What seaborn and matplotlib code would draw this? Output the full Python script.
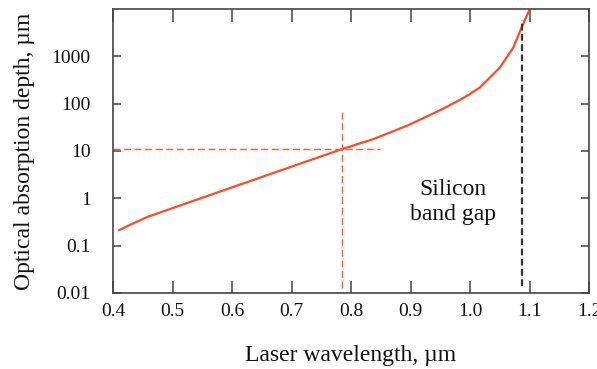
import matplotlib
matplotlib.use("Agg")
import matplotlib.pyplot as plt
import seaborn as sns
import pandas as pd

# Optical absorption depth of silicon versus laser wavelength
wavelength_um = [0.41, 0.43, 0.457, 0.5, 0.6, 0.7, 0.7815, 0.8375, 0.8936,
                 0.9496, 0.9832, 1.0, 1.0168, 1.0504, 1.0728, 1.0867, 1.098, 1.1008]
depth_um = [0.212, 0.28, 0.40, 0.62, 1.7, 4.66, 10.6, 17.8, 33.9,
            72.4, 120, 160, 221, 583, 1535, 4050, 8500, 10000]

# Guide markers
marker_wl = 0.785          # laser wavelength of interest
marker_depth = 10.9        # its absorption depth
band_gap_wl = 1.088        # silicon band gap wavelength

x_ticks = [0.4, 0.5, 0.6, 0.7, 0.8, 0.9, 1.0, 1.1, 1.2]
x_tick_labels = ["0.4", "0.5", "0.6", "0.7", "0.8", "0.9", "1.0", "1.1", "1.2"]
y_ticks = [0.01, 0.1, 1, 10, 100, 1000]
y_tick_labels = ["0.01", "0.1", "1", "10", "100", "1000"]

sns.set_style("white")
plt.rcParams["font.family"] = ["Liberation Serif", "DejaVu Serif"]

df = pd.DataFrame({"wavelength": wavelength_um, "depth": depth_um})

fig = plt.figure(figsize=(5.97, 3.69), dpi=100)
ax = fig.add_axes([0.1893, 0.206, 0.7973, 0.7696])

sns.lineplot(data=df, x="wavelength", y="depth", ax=ax, color="#ff4a26",
             linewidth=1.6, estimator=None, sort=False)
ax.set_yscale("log")
ax.set_xlim(0.4, 1.2)
ax.set_ylim(0.01, 10000)

# Dashed guide lines
guide_red = "#ff5a3a"
ax.plot([0.4, 0.849], [marker_depth, marker_depth], color=guide_red,
        linestyle=(0, (5, 2.6)), linewidth=1.0)
ax.plot([marker_wl, marker_wl], [0.0128, 75], color=guide_red,
        linestyle=(0, (5, 2.6)), linewidth=1.0)
ax.plot([band_gap_wl, band_gap_wl], [0.014, 6000], color="#333333",
        linestyle=(0, (3, 1.6)), linewidth=1.6)

ax.annotate("Silicon\nband gap", xy=(453 - 113, 293 - 202), xycoords="axes pixels",
            ha="center", va="center", fontsize=17, linespacing=1.2,
            color="#111111")

ax.set_xticks(x_ticks)
ax.set_xticklabels(x_tick_labels)
ax.set_yticks(y_ticks)
ax.set_yticklabels(y_tick_labels)
ax.minorticks_off()

ax.tick_params(axis="x", direction="in", length=9, width=1.1, color="#444444",
               top=True, bottom=True, labelsize=14, pad=7, labelcolor="#111111")
ax.tick_params(axis="y", direction="in", length=6, width=1.1, color="#444444",
               left=True, right=True, labelsize=14, pad=16, labelcolor="#111111")

for spine in ax.spines.values():
    spine.set_visible(True)
    spine.set_color("#444444")
    spine.set_linewidth(1.2)

ax.set_xlabel("Laser wavelength, µm", fontsize=17, labelpad=18, color="#111111")
ax.set_ylabel("Optical absorption depth, µm", fontsize=17, labelpad=12,
              color="#111111")

fig.savefig("out.png", dpi=100)
